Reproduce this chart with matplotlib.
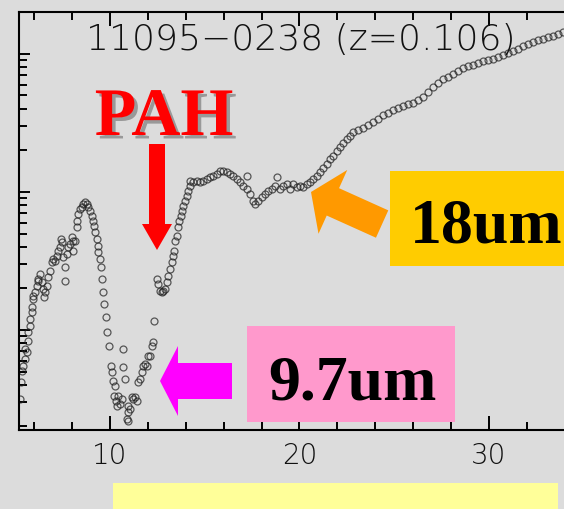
import numpy as np
import matplotlib
matplotlib.use("Agg")
import matplotlib.pyplot as plt
import matplotlib.patheffects as pe
from matplotlib.patches import Polygon, Rectangle
from matplotlib.ticker import MultipleLocator, LogLocator, NullFormatter

# ==========================================
# DATA
# ==========================================
TITLE = "11095\u22120238 (z=0.106)"
X_TICKS = [10, 20, 30]

wavelength = [
    5.25, 5.30, 5.36, 5.41, 5.51, 5.51, 5.62, 5.67, 5.67, 5.78, 5.78, 5.88, 5.88, 5.94, 5.94,
    6.04, 6.15, 6.20, 6.20, 6.31, 6.41, 6.46, 6.52, 6.57, 6.68, 6.73, 6.83, 6.94, 6.99, 7.10,
    7.20, 7.26, 7.36, 7.47, 7.42, 7.52, 7.63, 7.63, 7.73, 7.78, 7.89, 7.99, 8.05, 8.05, 8.15,
    8.26, 8.26, 8.31, 8.42, 8.52, 8.57, 8.68, 8.79, 8.84, 8.94, 9.05, 9.10, 9.16, 9.21, 9.31,
    9.37, 9.37, 9.47, 9.53, 9.58, 9.63, 9.68, 9.79, 9.84, 9.95,
    10.05, 10.11, 10.16, 10.26, 10.21, 10.32, 10.37, 10.42, 10.53, 10.63, 10.69, 10.69, 10.79,
    10.95, 10.95, 11.06, 10.95, 10.90, 11.16, 11.21, 11.32, 11.42, 11.48, 11.58, 11.69, 11.74,
    11.85, 11.95, 12.01, 12.11, 12.22, 12.27, 12.32,
    12.48, 12.53, 12.64, 12.74, 12.80, 12.90, 13.01, 13.06, 13.17, 13.27, 13.32, 13.38, 13.43,
    13.54, 13.59, 13.64, 13.75, 13.80, 13.85, 13.96, 14.06, 14.12, 14.22, 14.22, 14.38, 14.59,
    14.75, 14.91, 15.12, 15.28, 15.44, 15.65, 15.80, 15.96, 16.17, 16.33, 16.49, 16.70, 16.86,
    17.02, 17.23, 17.23, 17.39, 17.55, 17.65, 17.81, 18.02, 18.18, 18.34, 18.55, 18.71, 18.81,
    18.97, 19.13, 19.34, 19.50, 19.66, 19.87, 20.03, 20.18, 20.40, 20.55, 20.71, 20.92,
    21.08, 21.24, 21.45, 21.61, 21.77, 21.98, 22.14, 22.30, 22.51, 22.66, 22.82, 23.09, 23.35,
    23.61, 23.88, 24.14, 24.41, 24.67, 24.93, 25.20, 25.46, 25.73, 25.99, 26.25, 26.52, 26.78,
    27.05, 27.31, 27.57, 27.84, 28.10, 28.36, 28.63, 28.89, 29.16, 29.42, 29.68, 29.95, 30.21,
    30.47, 30.74, 31.00, 31.27, 31.53, 31.79, 32.06, 32.32, 32.59, 32.85, 33.11, 33.38, 33.64,
    33.90,
]

flux = [
    0.00316, 0.00420, 0.00505, 0.00545, 0.00617, 0.00728, 0.00690, 0.00830, 0.00970, 0.0107,
    0.0120, 0.0134, 0.0146, 0.0168, 0.0176,
    0.0189, 0.0208, 0.0234, 0.0227, 0.0255, 0.0222, 0.0198, 0.0173, 0.0189, 0.0208, 0.0242,
    0.0268, 0.0311, 0.0327, 0.0316,
    0.0344, 0.0374, 0.0399, 0.0434, 0.0456, 0.0338, 0.0286, 0.0227, 0.0356, 0.0399, 0.0420,
    0.0472, 0.0441, 0.0374, 0.0441,
    0.0558, 0.0616, 0.0693, 0.0753, 0.0779, 0.0819, 0.0846, 0.0819, 0.0779, 0.0728, 0.0670,
    0.0616, 0.0567, 0.0513, 0.0456,
    0.0406, 0.0367, 0.0327, 0.0286, 0.0234, 0.0189, 0.0154, 0.0124, 0.00970, 0.00765,
    0.00545, 0.00495, 0.00427, 0.00394, 0.00335, 0.00307, 0.00282, 0.00335, 0.00290, 0.00316,
    0.00537, 0.00728, 0.00442,
    0.00282, 0.00254, 0.00268, 0.00219, 0.00226, 0.00329, 0.00316, 0.00329, 0.00307, 0.00418,
    0.00442, 0.00495, 0.00545,
    0.00564, 0.00545, 0.00647, 0.00647, 0.00765, 0.00820, 0.0116,
    0.0234, 0.0216, 0.0192, 0.0189, 0.0192, 0.0198, 0.0222, 0.0247, 0.0277, 0.0311, 0.0344,
    0.0374, 0.0441,
    0.0480, 0.0558, 0.0616, 0.0670, 0.0728, 0.0792, 0.0860, 0.0935, 0.102, 0.111, 0.120,
    0.118, 0.120,
    0.118, 0.120, 0.124, 0.128, 0.131, 0.135, 0.142, 0.142, 0.140, 0.135, 0.131, 0.124, 0.118,
    0.111, 0.131, 0.105, 0.0967, 0.0860, 0.0819, 0.0860, 0.0920, 0.0967, 0.102, 0.105, 0.111,
    0.128,
    0.105, 0.111, 0.114, 0.105, 0.114, 0.109, 0.111, 0.109, 0.114, 0.118, 0.124, 0.131,
    0.140, 0.149, 0.160, 0.173, 0.182, 0.198, 0.212, 0.227, 0.242, 0.254, 0.272, 0.281, 0.291,
    0.306, 0.321, 0.338, 0.362, 0.374, 0.392, 0.406, 0.420, 0.434, 0.442, 0.464, 0.490, 0.530,
    0.577, 0.617, 0.659, 0.682, 0.716, 0.752, 0.791, 0.818, 0.832, 0.860, 0.890, 0.905, 0.920,
    0.951, 0.983, 1.02, 1.05, 1.09, 1.14, 1.18, 1.22, 1.26, 1.285, 1.33, 1.35, 1.40,
    1.44,
]

# ==========================================
# FIGURE GEOMETRY (pixels of the 564x510 slide)
# ==========================================
W, H = 564, 510
BG = "#dcdcdc"


def fxy(px, py):
    return px / W, 1 - py / H


def arrow_verts(tip, u, length, head_len, head_half, shaft_half):
    u = np.array(u, dtype=float)
    u /= np.linalg.norm(u)
    n = np.array([-u[1], u[0]])
    tip = np.array(tip, dtype=float)
    tail = tip - length * u
    base = tip - head_len * u
    pts = [tail + shaft_half * n, base + shaft_half * n, base + head_half * n, tip,
           base - head_half * n, base - shaft_half * n, tail - shaft_half * n]
    return [fxy(p[0], p[1]) for p in pts]


fig = plt.figure(figsize=(W / 100, H / 100), dpi=100, facecolor=BG)
ax = fig.add_axes([19 / W, (H - 431) / H, (W - 19) / W, (431 - 12.5) / H])
ax.set_facecolor(BG)

ax.plot(wavelength, flux, linestyle="none", marker="o", markersize=5.0,
        markerfacecolor="none", markeredgecolor="#222222", markeredgewidth=0.9, alpha=0.72)

ax.set_yscale("log")
ax.set_xlim(5.2, 33.96)
ax.set_ylim(0.001886, 2.03)

ax.xaxis.set_major_locator(MultipleLocator(10))
ax.xaxis.set_minor_locator(MultipleLocator(2))
ax.yaxis.set_major_locator(LogLocator(base=10))
ax.yaxis.set_minor_locator(LogLocator(base=10, subs=np.arange(2, 10)))
ax.yaxis.set_minor_formatter(NullFormatter())

for side in ["left", "bottom", "top"]:
    ax.spines[side].set_linewidth(1.5)
ax.spines["right"].set_visible(False)

ax.tick_params(axis="x", which="both", direction="in", bottom=True, top=True,
               labelbottom=True, labeltop=True, width=1.4, labelsize=20,
               labelcolor="#111111", pad=8)
ax.tick_params(axis="x", which="major", length=10)
ax.tick_params(axis="x", which="minor", length=5.5)
ax.tick_params(axis="y", which="both", direction="in", left=True, right=False,
               labelleft=False, width=1.4)
ax.tick_params(axis="y", which="major", length=8)
ax.tick_params(axis="y", which="minor", length=5.5)
ax.set_xticks(X_TICKS)
for lab in ax.get_xticklabels():
    lab.set_fontweight("light")

# title inside the frame
fig.text(*fxy(301, 50), TITLE, ha="center", va="baseline", fontsize=26,
         fontweight="light", color="#111111", family="DejaVu Sans")

# ==========================================
# SLIDE ANNOTATIONS
# ==========================================
serif = "Liberation Serif"

# PAH label and red arrow
fig.text(*fxy(164, 136), "PAH", ha="center", va="baseline", fontsize=49,
         fontweight="bold", color="#ff0000", family=serif,
         path_effects=[pe.SimplePatchShadow(offset=(2.5, -2.5), shadow_rgbFace="#888888", alpha=0.8),
                       pe.Normal()])
fig.add_artist(Polygon(arrow_verts((157, 251), (0, 1), 106, 26, 15, 8),
                       closed=True, facecolor="#ff0000", edgecolor="none"))

# 18um feature
bx, by = fxy(390, 267)
fig.add_artist(Rectangle((bx, by), (W - 390) / W, (267 - 172) / H,
                         facecolor="#ffcc00", edgecolor="none"))
fig.text(*fxy(486, 243), "18um", ha="center", va="baseline", fontsize=46,
         fontweight="bold", color="black", family=serif)
fig.add_artist(Polygon(arrow_verts((311, 193), (-0.91, -0.41), 78, 24, 35, 15),
                       closed=True, facecolor="#ff9900", edgecolor="none"))

# 9.7um feature
bx, by = fxy(247, 423)
fig.add_artist(Rectangle((bx, by), (455 - 247) / W, (423 - 327) / H,
                         facecolor="#ff99cc", edgecolor="none"))
fig.text(*fxy(352, 400), "9.7um", ha="center", va="baseline", fontsize=46,
         fontweight="bold", color="black", family=serif)
fig.add_artist(Polygon(arrow_verts((160, 382), (-1, 0), 72, 18, 35, 18),
                       closed=True, facecolor="#ff00ff", edgecolor="none"))

# yellow strip at the bottom
bx, by = fxy(113, 512)
fig.add_artist(Rectangle((bx, by), (558 - 113) / W, (512 - 484) / H,
                         facecolor="#ffff99", edgecolor="none"))

fig.savefig("out.png", dpi=100, facecolor=fig.get_facecolor())
